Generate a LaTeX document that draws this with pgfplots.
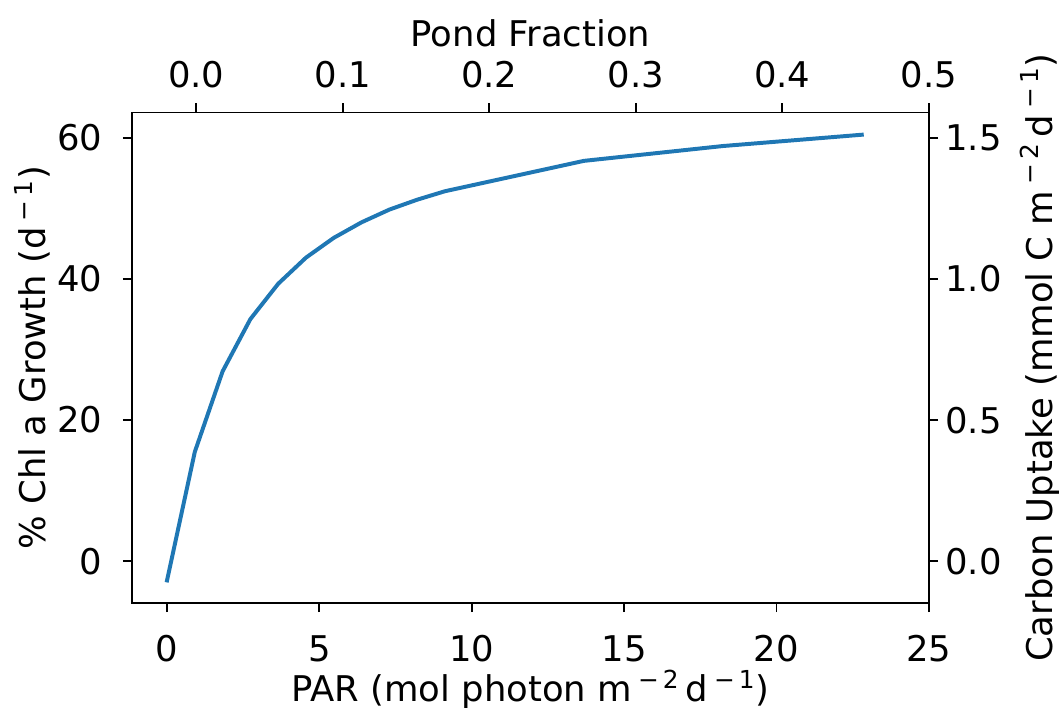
\documentclass[border=0pt]{standalone}
\usepackage{fontspec}
\setmainfont{DejaVu Sans}
\usepackage{pgfplots}
\pgfplotsset{compat=1.18}
\definecolor{tabblue}{RGB}{31,119,180}
\newcommand{\sups}[1]{\,\textsuperscript{−\,#1}}
\begin{document}
\begin{tikzpicture}
\pgfplotsset{
  common/.style={
    scale only axis, width=382.3pt, height=235.3pt,
    at={(0pt,0pt)}, anchor=south west,
    /pgf/number format/assume math mode=true,
    tick align=outside, major tick length=4.5pt,
    axis line style={line width=0.9pt},
    major tick style={line width=0.9pt, black},
    minor tick num=0,
    every tick label/.append style={font=\fontsize{17}{20}\selectfont, inner sep=0pt, outer sep=0pt},
    label style={font=\fontsize{17}{20}\selectfont, inner sep=0pt},
  }
}
\begin{axis}[common,
  xmin=-1.14, xmax=25, ymin=-5.86, ymax=63.55,
  xtick={0,5,10,15,20,25}, ytick={0,20,40,60},
  xtick pos=left, ytick pos=left,
  xticklabel pos=left, yticklabel pos=left,
  xticklabel shift=23.5pt, yticklabel shift=10pt,
  xticklabel style={anchor=base},
  yticklabel style={anchor=east},
  xlabel={PAR (mol photon m\sups{2}\,d\sups{1})},
  ylabel={\% Chl a Growth (d\sups{1})},
  xlabel style={at={(axis description cs:0.5,-0.2010)}, anchor=base},
  ylabel style={at={(axis description cs:-0.1090,0.5)}, anchor=base},
]
\addplot[tabblue, line width=1.9pt, line join=round, line cap=rect] coordinates {
(0,-2.7)(0.912,15.5)(1.824,26.9)(2.736,34.3)(3.648,39.3)(4.56,43.0)(5.472,45.8)
(6.384,48.0)(7.296,49.8)(8.208,51.2)(9.12,52.4)(13.68,56.7)(18.24,58.8)(22.8,60.4)
};
\end{axis}
\begin{axis}[common,
  xmin=-0.0437, xmax=0.5, ymin=-0.1465, ymax=1.589,
  xtick={0,0.1,0.2,0.3,0.4,0.5}, ytick={0,0.5,1,1.5},
  xtick pos=right, ytick pos=right,
  xticklabel pos=right, yticklabel pos=right,
  xticklabel shift=7.3pt, yticklabel shift=3.5pt,
  xticklabel={\pgfmathprintnumber[fixed,fixed zerofill,precision=1]{\tick}},
  yticklabel={\pgfmathprintnumber[fixed,fixed zerofill,precision=1]{\tick}},
  xticklabel style={anchor=base},
  yticklabel style={anchor=west},
  xlabel={Pond Fraction},
  ylabel={Carbon Uptake (mmol C m\sups{2}\,d\sups{1})},
  xlabel style={at={(axis description cs:0.5,1.1347)}, anchor=base},
  ylabel style={at={(axis description cs:1.1547,0.5)}, anchor=base},
]
\addplot[draw=none] coordinates {(0,0)};
\end{axis}
\pgfresetboundingbox
\path (-63.5pt,-50.5pt) rectangle (444.8pt,289.3pt);
\end{tikzpicture}
\end{document}
